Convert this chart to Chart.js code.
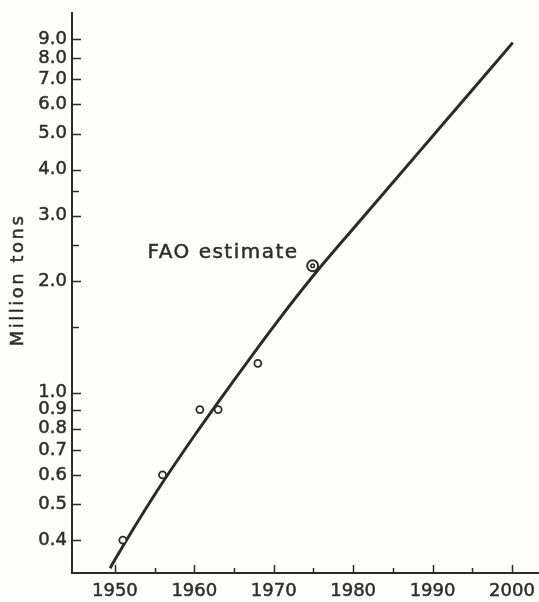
<!DOCTYPE html>
<html>
<head>
<meta charset="utf-8">
<script src="https://cdn.jsdelivr.net/npm/chart.js@4"></script>
<style>
body { margin:0; background:#fdfdfb; }
canvas { display:block; }
</style>
</head>
<body>
<canvas id="grafico" width="539" height="602"></canvas>
<script>

// ---------------- DADOS ----------------

// curva ajustada (anos / milhões de toneladas)
const curveYears  = [1949.4, 1950, 1955, 1960, 1965, 1970, 1975, 1980, 1985, 1990, 1995, 2000.1]
const curveValues = [0.336, 0.354, 0.53, 0.765, 1.08, 1.51, 2.07, 2.77, 3.69, 4.92, 6.56, 8.8]

// pontos observados
const obsYears  = [1951, 1956, 1960.7, 1963, 1968]
const obsValues = [0.4, 0.6, 0.9, 0.9, 1.2]

// estimativa FAO
const faoYear = 1974.9
const faoValue = 2.2
const faoLabel = "FAO estimate"

// eixos
const xTicks = [1950, 1960, 1970, 1980, 1990, 2000]
const xMinorTicks = [1955, 1965, 1975, 1985, 1995]
const yTicks = [0.4, 0.5, 0.6, 0.7, 0.8, 0.9, 1.0, 2.0, 3.0, 4.0, 5.0, 6.0, 7.0, 8.0, 9.0]
const yMinorTicks = [1.5, 2.5, 3.5]
const yTitle = "Million tons"

const ink = "#2b2b2b"
const textColor = "#2e2e2e"
const bg = "#fdfdfb"
const fonte = "DejaVu Sans"

// ---------------- TRACINHOS PARA DENTRO ----------------

const tracinhos = {
id:"tracinhos",
afterDraw(chart){
const ctx = chart.ctx
const x = chart.scales.x
const y = chart.scales.y
const area = chart.chartArea
ctx.save()
ctx.strokeStyle = ink
ctx.lineWidth = 1.5
ctx.beginPath()
yTicks.forEach(v => {
let p = Math.round(y.getPixelForValue(v)) + 0.5
ctx.moveTo(area.left, p)
ctx.lineTo(area.left + 9, p)
})
yMinorTicks.forEach(v => {
let p = Math.round(y.getPixelForValue(v)) + 0.5
ctx.moveTo(area.left, p)
ctx.lineTo(area.left + 7, p)
})
xTicks.forEach(v => {
let p = Math.round(x.getPixelForValue(v)) + 0.5
ctx.moveTo(p, area.bottom)
ctx.lineTo(p, area.bottom - 8)
})
xMinorTicks.forEach(v => {
let p = Math.round(x.getPixelForValue(v)) + 0.5
ctx.moveTo(p, area.bottom)
ctx.lineTo(p, area.bottom - 5)
})
ctx.stroke()
ctx.restore()
}
}

// ---------------- TEXTOS ----------------

const textos = {
id:"textos",
afterDraw(chart){
const ctx = chart.ctx
const x = chart.scales.x
const y = chart.scales.y
const area = chart.chartArea
ctx.save()
ctx.fillStyle = textColor
ctx.strokeStyle = textColor
ctx.lineWidth = 0.5

// titulo do eixo y
ctx.font = "18px '" + fonte + "'"
ctx.letterSpacing = "2.5px"
ctx.textAlign = "center"
ctx.textBaseline = "middle"
ctx.translate(18, (area.top + area.bottom) / 2 - 13)
ctx.rotate(-Math.PI / 2)
ctx.fillText(yTitle, 0, 0)
ctx.strokeText(yTitle, 0, 0)
ctx.setTransform(1, 0, 0, 1, 0, 0)

// rotulo da estimativa
ctx.font = "20px '" + fonte + "'"
ctx.letterSpacing = "1.5px"
ctx.textAlign = "right"
ctx.textBaseline = "alphabetic"
let lx = x.getPixelForValue(faoYear) - 14
let ly = y.getPixelForValue(faoValue) - 8
ctx.fillText(faoLabel, lx, ly)
ctx.strokeText(faoLabel, lx, ly)
ctx.restore()
}
}

// ---------------- GRAFICO ----------------

new Chart(document.getElementById("grafico"),{
type:"line",
data:{
datasets:[
{
data:curveYears.map((a,i) => ({x:a, y:curveValues[i]})),
borderColor:ink,
borderWidth:3,
pointRadius:0,
cubicInterpolationMode:"monotone",
fill:false,
order:3
},
{
data:obsYears.map((a,i) => ({x:a, y:obsValues[i]})),
showLine:false,
pointRadius:3.5,
borderWidth:1.8,
borderColor:ink,
backgroundColor:bg,
order:2
},
{
data:[{x:faoYear, y:faoValue}],
showLine:false,
pointRadius:5.5,
borderWidth:2,
borderColor:ink,
backgroundColor:bg,
order:1
},
{
data:[{x:faoYear, y:faoValue}],
showLine:false,
pointRadius:1.8,
borderWidth:1.6,
borderColor:ink,
backgroundColor:bg,
order:0
}
]
},
options:{
responsive:false,
animation:false,
devicePixelRatio:1,
layout:{autoPadding:false, padding:{top:13, right:0, left:0, bottom:0}},
plugins:{legend:{display:false}, tooltip:{enabled:false}},
scales:{
x:{
type:"linear",
bounds:"data",
min:1944.6,
max:2003.4,
grid:{display:false, drawTicks:false},
border:{display:true, color:ink, width:2},
afterBuildTicks:s => { s.ticks = xTicks.map(v => ({value:v})) },
afterFit:s => {
s.height = 29
s.paddingLeft = 0
s.paddingRight = 0
},
ticks:{
autoSkip:false,
maxRotation:0,
padding:8,
color:textColor,
textStrokeColor:textColor,
textStrokeWidth:0.5,
font:{family:fonte, size:18},
callback:v => String(v)
}
},
y:{
type:"logarithmic",
bounds:"data",
min:0.326,
max:10.58,
grid:{display:false, drawTicks:false},
border:{display:true, color:ink, width:2},
afterBuildTicks:s => { s.ticks = yTicks.map(v => ({value:v})) },
afterFit:s => {
s.width = 72
s.paddingTop = 0
s.paddingBottom = 0
},
ticks:{
autoSkip:false,
padding:5,
color:textColor,
textStrokeColor:textColor,
textStrokeWidth:0.5,
font:{family:fonte, size:18},
callback:v => Number(v).toFixed(1)
}
}
}
},
plugins:[tracinhos, textos]
})

</script>
</body>
</html>
